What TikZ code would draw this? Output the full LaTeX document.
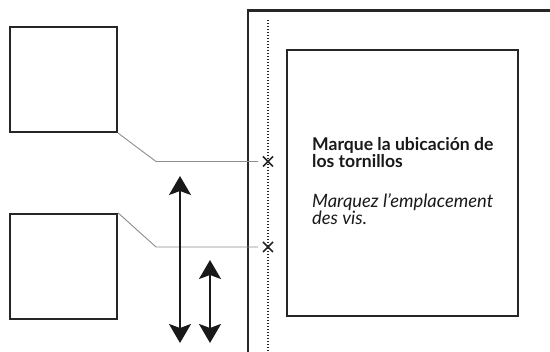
\documentclass[tikz,border=0pt]{standalone}
\usepackage{fontspec}
\setmainfont{Lato}
\usetikzlibrary{arrows.meta,shapes.misc}
\begin{document}
\begin{tikzpicture}[x=1pt,y=-1pt,
  sq/.style={draw=black!85,line width=2.2pt,minimum width=107pt,minimum height=105pt,inner sep=0pt},
  frame/.style={draw=black!85,line width=2.2pt},
  leader/.style={draw=black!45,line width=0.9pt},
  xmark/.style={cross out,draw=black!85,line width=1.5pt,minimum size=8.5pt,inner sep=0pt},
  dblarrow/.style={line width=2pt,black!90,{Stealth[length=19pt,width=22pt,inset=4pt]}-{Stealth[length=19pt,width=22pt,inset=4pt]}},
  txt/.style={anchor=base west,align=left,inner sep=0pt,text=black!90}
]
\useasboundingbox (0,0) rectangle (550,352);
% squares
\node[sq] (s1) at (63.5,79.5) {};
\node[sq] (s2) at (63.5,266.5) {};
% outer frame
\coordinate (fb) at (248,356);
\coordinate (ft) at (248,10.5);
\coordinate (fr) at (552,10.5);
\draw[frame] (fb) -- (ft) -- (fr);
% dotted line
\coordinate (dt) at (268,20);
\coordinate (db) at (268,352);
\draw[black!85,line width=1.1pt,dash pattern=on 1.1pt off 1.9pt] (dt) -- (db);
% inner rectangle
\node[frame,minimum width=231pt,minimum height=266pt,inner sep=0pt] (inner) at (402.5,183) {};
% x marks
\node[xmark] (x1) at (268,161.5) {};
\node[xmark] (x2) at (268,247) {};
% leaders
\coordinate (k1) at (156,161.5);
\coordinate (e1) at (258,161.5);
\coordinate (k2) at (156,247);
\coordinate (e2) at (258,247);
\draw[leader] (s1.south east) -- (k1) -- (e1);
\draw[leader] (s2.north east) -- (k2) -- (e2);
% arrows
\coordinate (a1t) at (180,176);
\coordinate (a1b) at (180,343);
\coordinate (a2t) at (210,260);
\coordinate (a2b) at (210,343);
\draw[dblarrow] (a1b) -- (a1t);
\draw[dblarrow] (a2b) -- (a2t);
% texts
\node[txt,font=\fontsize{17.6}{17.3}\selectfont\bfseries] (t1) at (312,168) {Marque la ubicación de\\los tornillos};
\node[txt,font=\fontsize{18.4}{17.3}\selectfont\itshape] (t2) at (312,225) {Marquez l’emplacement\\des vis.};
\end{tikzpicture}
\end{document}
